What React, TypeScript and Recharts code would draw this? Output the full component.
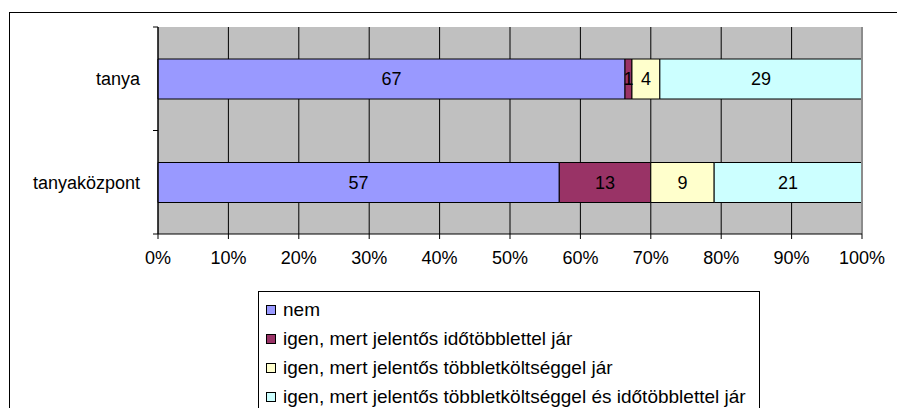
import React from 'react';
import { BarChart, Bar, XAxis, YAxis, CartesianGrid, Legend, LabelList, ReferenceLine } from 'recharts';

const categories = ['tanya', 'tanyaközpont'];
const nem = [67, 57];
const idotobblet = [1, 13];
const koltseg = [4, 9];
const mindketto = [29, 21];
const seriesNames = [
  'nem',
  'igen, mert jelentős időtöbblettel jár',
  'igen, mert jelentős többletköltséggel jár',
  'igen, mert jelentős többletköltséggel és időtöbblettel jár',
];
const xTicks = [0, 0.1, 0.2, 0.3, 0.4, 0.5, 0.6, 0.7, 0.8, 0.9, 1];

const keys = ['nem', 'ido', 'koltseg', 'mindketto'];
const colors = ['#9999FF', '#993366', '#FFFFCC', '#CCFFFF'];

const data = categories.map((name, i) => ({
  name,
  nem: nem[i],
  ido: idotobblet[i],
  koltseg: koltseg[i],
  mindketto: mindketto[i],
}));

const FONT = "'Liberation Sans', Arial, sans-serif";

const CategoryTick = (props: any) => {
  const { x, y, payload } = props;
  const half = payload && typeof payload.offset === 'number' && payload.offset > 0 ? payload.offset : 51.75;
  const ax = x + 13;
  return (
    <g>
      <line x1={ax} x2={ax + 5} y1={y - half} y2={y - half} stroke="#000" />
      <line x1={ax} x2={ax + 5} y1={y + half} y2={y + half} stroke="#000" />
      <text x={x} y={y} dy="0.35em" textAnchor="end" fill="#000" fontSize={18} fontFamily={FONT}>
        {payload.value}
      </text>
    </g>
  );
};

const LegendBox = () => (
  <div
    style={{
      border: '1px solid #000',
      boxSizing: 'border-box',
      height: 140,
      padding: '3px 0 0 7px',
      fontFamily: FONT,
      fontSize: 19,
      color: '#000',
      background: '#fff',
    }}
  >
    {seriesNames.map((n, i) => (
      <div key={n} style={{ height: 29, display: 'flex', alignItems: 'center', whiteSpace: 'nowrap' }}>
        <span
          style={{
            display: 'inline-block',
            flexShrink: 0,
            width: 8,
            height: 8,
            border: '1px solid #000',
            background: colors[i],
            marginRight: 7,
          }}
        />
        {n}
      </div>
    ))}
  </div>
);

export default function App() {
  return (
    <div style={{ position: 'fixed', left: 0, top: 0, width: 897, height: 408, overflow: 'hidden', background: '#fff' }}>
      <div
        style={{
          position: 'absolute',
          left: 9,
          top: 12,
          width: 1000,
          height: 1000,
          border: '1px solid #000',
        }}
      />
      <div style={{ position: 'absolute', left: 0, top: 0 }}>
        <BarChart
          width={897}
          height={408}
          data={data}
          layout="vertical"
          stackOffset="expand"
          margin={{ top: 27, right: 35, bottom: 144, left: 0 }}
        >
          <CartesianGrid horizontal={false} stroke="#000" fill="#C0C0C0" fillOpacity={1} />
          <XAxis
            type="number"
            domain={[0, 1]}
            ticks={xTicks}
            tickFormatter={(v: number) => `${Math.round(v * 100)}%`}
            height={30}
            tickSize={5}
            tickMargin={12}
            axisLine={{ stroke: '#000' }}
            tickLine={{ stroke: '#000' }}
            tick={{ fill: '#000', fontSize: 18, fontFamily: FONT }}
          />
          <YAxis
            type="category"
            dataKey="name"
            width={158}
            tickSize={5}
            tickMargin={13}
            tickLine={false}
            axisLine={{ stroke: '#000' }}
            tick={<CategoryTick />}
          />
          <ReferenceLine x={1} stroke="#8c8c8c" strokeWidth={2} />
          {keys.map((k, i) => (
            <Bar
              key={k}
              dataKey={k}
              name={seriesNames[i]}
              stackId="a"
              fill={colors[i]}
              stroke="#000"
              strokeWidth={1}
              barSize={40}
              isAnimationActive={false}
            >
              <LabelList dataKey={k} position="center" fill="#000" fontSize={18} fontFamily={FONT} />
            </Bar>
          ))}
          <Legend
            layout="vertical"
            align="center"
            verticalAlign="middle"
            content={<LegendBox />}
            wrapperStyle={{ left: 258, top: 291, width: 502, height: 140 }}
          />
        </BarChart>
      </div>
    </div>
  );
}
